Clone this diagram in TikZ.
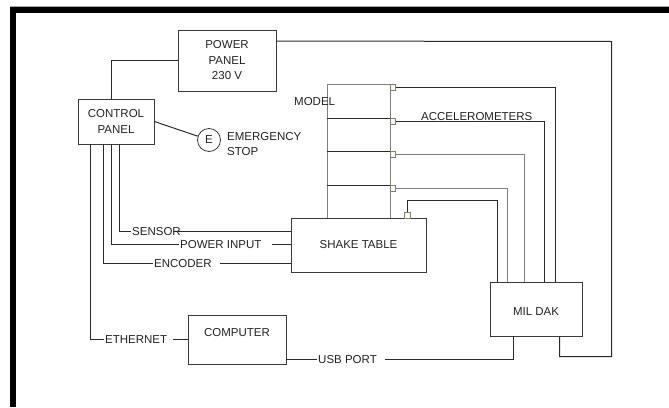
\documentclass[tikz,border=0pt]{standalone}
\usepackage{fontspec}
\setmainfont{Liberation Sans}
\usetikzlibrary{calc}
\newcommand\dgfont{\fontsize{11.5}{15.5}\selectfont}
\definecolor{boxcol}{HTML}{3A3A3A}
\definecolor{wirecol}{HTML}{2A2A2A}
\definecolor{modelcol}{HTML}{808080}
\definecolor{txtcol}{HTML}{222222}
\definecolor{accfill}{HTML}{FFFBE8}
\begin{document}
\begin{tikzpicture}[x=1pt,y=-1pt,
  box/.style={draw=boxcol, line width=0.9pt, inner sep=0pt, align=center, font=\dgfont, text=txtcol},
  lbl/.style={inner sep=0pt, font=\dgfont, text=txtcol},
  wire/.style={draw=wirecol, line width=1pt},
  modelline/.style={draw=modelcol, line width=1pt},
  accbox/.style={draw=modelcol, fill=accfill, line width=0.6pt, minimum size=5.5pt, inner sep=0pt}]
\useasboundingbox (0,0) rectangle (669,407);
% frame
\fill[black] (10,6) rectangle (669,12.7);
\fill[black] (10,6) rectangle (16,407);
\draw[black!35, line width=0.5pt] (10,6) -- (669,6);

% boxes
\node[box, minimum width=98pt, minimum height=61pt] (pp) at (227,60.5) {POWER\\PANEL\\230 V};
\node[box, minimum width=76pt, minimum height=45pt] (cp) at (116,121.5) {CONTROL\\PANEL};
\node[draw=boxcol, line width=0.8pt, circle, minimum size=23pt, inner sep=0pt, font=\dgfont, text=txtcol] (es) at (209,140) {E};
\node[lbl, anchor=west, align=left] (est) at (227,144) {EMERGENCY\\STOP};
\node[box, minimum width=135pt, minimum height=54pt] (st) at (358.5,245) {SHAKE TABLE};
\node[box, minimum width=92pt, minimum height=54pt, label={[lbl,yshift=-3pt]center:MIL DAK}] (md) at (536,309) {};
\node[box, minimum width=98pt, minimum height=49pt, label={[lbl,yshift=6.5pt]center:COMPUTER}] (comp) at (237,339.5) {};

% model
\draw[modelline] (327,218) -- (327,84) -- (390,84) -- (390,218);
\draw[wire] (327,118.5) -- (390,118.5);
\draw[wire] (327,151.5) -- (390,151.5);
\draw[wire] (327,185.5) -- (390,185.5);
\node[lbl, anchor=west] (model) at (294,102) {MODEL};

% accelerometers
\node[accbox] (a1) at (392.8,87.5) {};
\node[accbox] (a2) at (392.8,121.5) {};
\node[accbox] (a3) at (392.8,154.5) {};
\node[accbox] (a4) at (392.8,188.5) {};
\node[accbox] (a5) at (407.2,215.3) {};
\node[lbl, anchor=base west] (acct) at (421,120) {ACCELEROMETERS};

\coordinate (m1) at ($(md.north west)+(66,0)$);
\coordinate (m2) at ($(md.north west)+(55,0)$);
\coordinate (m3) at ($(md.north west)+(35,0)$);
\coordinate (m4) at ($(md.north west)+(18,0)$);
\coordinate (m5) at ($(md.north west)+(8,0)$);
\draw[wire] (a1.east) -| (m1);
\draw[wire] (a2.east) -| (m2);
\draw[modelline] (a3.east) -| (m3);
\draw[modelline] (a4.east) -| (m4);
\draw[wire] (a5.north) -- ++(0,-11.5) -| (m5);

% power panel connections
\draw[wire] (pp.west) -| ($(cp.north west)+(34,0)$);
\draw[wire] ($(pp.north east)+(0,11.5)$) -- (611.5,41.5) -- (611.5,356.5) -| ($(md.south west)+(70,0)$);
\draw[wire] (cp.east) -- (es);

% labels on wires
\node[lbl, anchor=west] (sen) at (132,231.5) {SENSOR};
\node[lbl, anchor=west] (pin) at (180,244.5) {POWER INPUT};
\node[lbl, anchor=west] (enc) at (154,263.5) {ENCODER};
\node[lbl, anchor=west] (eth) at (105,339.5) {ETHERNET};
\node[lbl, anchor=west] (usb) at (318,359.5) {USB PORT};

\draw[wire] ($(cp.south west)+(42.3,0)$) |- ([xshift=-1pt]sen.west);
\draw[wire] ([xshift=-7pt]sen.east) -- (sen.east -| st.west);
\draw[wire] ($(cp.south west)+(34.3,0)$) |- ([xshift=-1pt]pin.west);
\draw[wire] ([xshift=10pt]pin.east) -- (pin.east -| st.west);
\draw[wire] ($(cp.south west)+(26,0)$) |- ([xshift=-1pt]enc.west);
\draw[wire] ([xshift=8pt]enc.east) -- (enc.east -| st.west);
\draw[wire] ($(cp.south west)+(13,0)$) |- ([xshift=-1pt]eth.west);
\draw[wire] ([xshift=6pt]eth.east) -- (eth.east -| comp.west);

\draw[wire] ($(md.south west)+(23.5,0)$) |- ([xshift=8pt]usb.east);
\draw[wire] (usb.west -| comp.east) -- ([xshift=-1pt]usb.west);
\end{tikzpicture}
\end{document}
